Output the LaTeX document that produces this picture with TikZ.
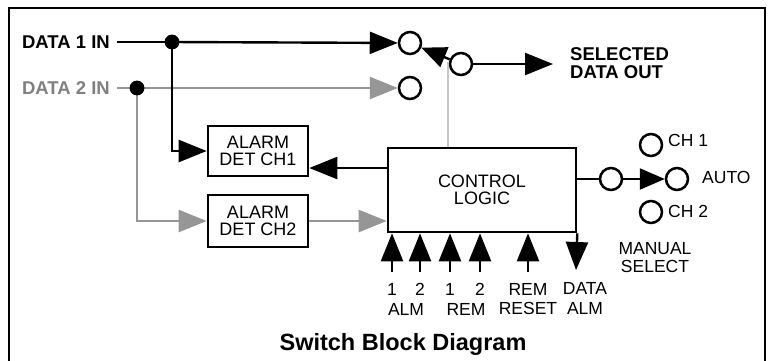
\documentclass[tikz,border=0pt]{standalone}
\usepackage{fontspec}
\setmainfont{Liberation Sans}
\usetikzlibrary{arrows.meta}
\definecolor{datagrey}{RGB}{128,128,128}
\definecolor{linegrey}{RGB}{150,150,150}
\definecolor{ctrlgrey}{RGB}{200,200,200}

\begin{document}
\begin{tikzpicture}[x=1pt, y=-1pt, line width=2.4pt,
    tip/.style={-{Triangle[length=28pt,width=22pt]}},
    armtip/.style={-{Triangle[length=25pt,width=21pt]}},
    blk/.style={draw, line width=2.6pt, fill=white, inner sep=0pt, align=center,
      font=\fontsize{18}{17}\selectfont},
    pin/.style={draw, circle, line width=2.5pt, minimum size=22pt, inner sep=0pt},
    lbl/.style={inner sep=0pt, font=\fontsize{17.5}{17}\selectfont},
    bold/.style={inner sep=0pt, align=left, font=\fontsize{18.5}{18}\selectfont\bfseries},
    gline/.style={color=linegrey}]
                \useasboundingbox (0,0) rectangle (768,360);
                % Frame
                \draw [line width=2.8pt] (9,366) -- (9,8) -- (765,8) -- (765,366);
                % Blocks
                \node [blk, minimum width=100pt, minimum height=50pt] (alm1) at (258,151) {ALARM\\DET CH1};
                \node [blk, minimum width=100pt, minimum height=52pt] (alm2) at (258,221) {ALARM\\DET CH2};
                \node [blk, minimum width=188pt, minimum height=84pt] (ctrl) at (482,190) {CONTROL\\LOGIC};
                % Inputs
                \node [bold, anchor=east] (d1) at (111,42) {DATA 1 IN};
                \node [bold, anchor=east, text=datagrey] (d2) at (111,88) {DATA 2 IN};
                \coordinate (j1) at (172,42);
                \coordinate (j2) at (137,88);
                \node [pin] (a1) at (410,43) {};
                \node [pin] (a2) at (410,88) {};
                \node [pin] (sw) at (461,64) {};
                % Data 2
                \draw [gline, shorten <=6pt] (d2) -- (j2);
                \draw [gline, tip] (j2) -- (a2);
                \draw [gline, tip] (j2) |- (alm2.west);
                \draw [gline, tip] (alm2.east) -- (ctrl.west |- alm2.east);
                % Data 1
                \draw [shorten <=6pt] (d1) -- (j1);
                \draw [tip] (j1) -- (a1);
                \draw [tip] (j1) |- (alm1.west);
                \draw [tip] (ctrl.west |- {(0,168)}) -- (alm1.east |- {(0,168)});
                \filldraw [black] (j1) circle (6.2pt);
                \filldraw [black] (j2) circle (6.2pt);
                % Switch
                \coordinate (arm) at (448,62);
                \draw [color=ctrlgrey, line width=2pt] (ctrl.north -| arm) -- (arm);
                \draw [armtip] (sw) -- (a1);
                \coordinate (out) at (553,64);
                \draw [tip] (sw) -- (out);
                \node [bold, anchor=west] (sel) at (569,63) {SELECTED\\DATA OUT};
                % Manual select
                \node [pin] (ms) at (611,179) {};
                \node [pin] (auto) at (677,179) {};
                \node [pin] (ch1) at (651,145) {};
                \node [pin] (ch2) at (651,212) {};
                \draw (ctrl.east |- ms) -- (ms);
                \draw [armtip] (ms) -- (auto);
                \node [lbl, anchor=west] (tch1) at (667,140) {CH 1};
                \node [lbl, anchor=west] (tauto) at (701,177) {AUTO};
                \node [lbl, anchor=west] (tch2) at (667,211) {CH 2};
                \node [lbl, align=center, font=\fontsize{17.5}{18}\selectfont] (man) at (655,258) {MANUAL\\SELECT};
                % Control inputs
                \foreach \x/\n in {392/p1, 420/p2, 450/p3, 480/p4, 528/p5}
                  {
                    \coordinate (\n) at (\x,272);
                    \draw [tip] (\n) -- (\n |- ctrl.south);
                  }
                \coordinate (dalm) at (576,270);
                \draw [tip] (ctrl.south east) -- (dalm);
                \node [lbl] (n1) at (392,289) {1};
                \node [lbl] (n2) at (420,289) {2};
                \node [lbl] (n3) at (450,289) {1};
                \node [lbl] (n4) at (480,289) {2};
                \node [lbl] (alm) at (406,309) {ALM};
                \node [lbl] (rem) at (466,309) {REM};
                \node [lbl, align=center, font=\fontsize{17.5}{19}\selectfont] (rst) at (528,299) {REM\\RESET};
                \node [lbl, align=center, font=\fontsize{17.5}{20}\selectfont] (dal) at (585,298) {DATA\\ALM};
                % Title
                \node [inner sep=0pt, font=\fontsize{23.5}{23}\selectfont\bfseries] (title) at (403,344) {Switch Block Diagram};
            \end{tikzpicture}
\end{document}
